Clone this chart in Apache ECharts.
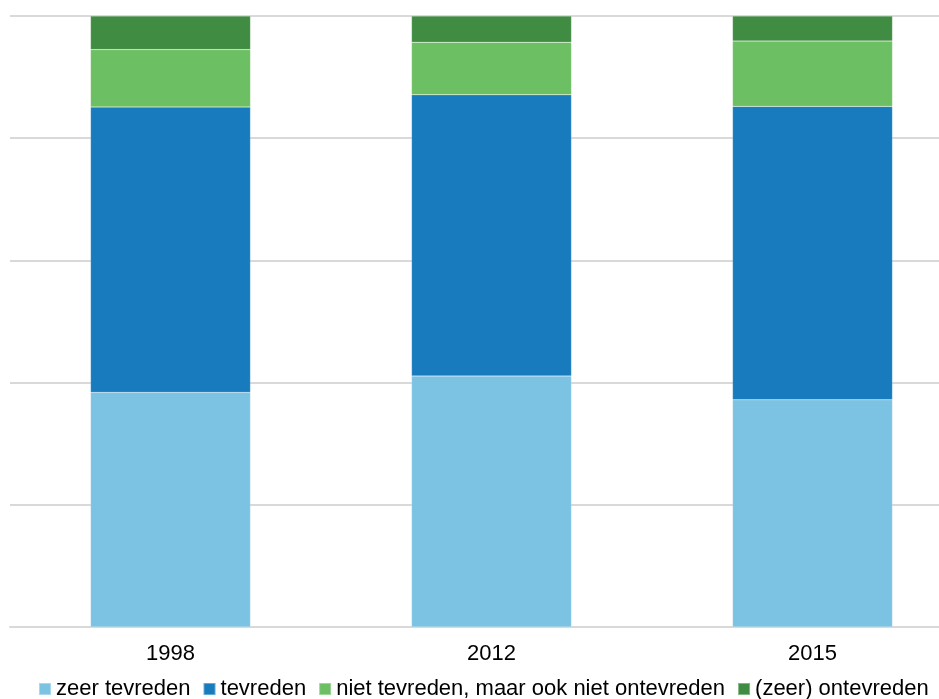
<!DOCTYPE html>
<html>
<head>
<meta charset="utf-8">
<script src="https://cdn.jsdelivr.net/npm/echarts@6/dist/echarts.min.js"></script>
<style>
  html, body { margin: 0; padding: 0; background: #fff; }
  #chart { width: 939px; height: 699px; }
</style>
</head>
<body>
<div id="chart"></div>
<script>
// categorieen en waarden (percentages)
const years = ['1998', '2012', '2015']
const seriesNames = ['zeer tevreden', 'tevreden', 'niet tevreden, maar ook niet ontevreden', '(zeer) ontevreden']
const zeerTevreden = [38.4, 41.1, 37.2]
const tevreden = [46.7, 46.0, 48.0]
const neutraal = [9.4, 8.6, 10.7]
const ontevreden = [5.5, 4.3, 4.1]
const yTicks = [0, 20, 40, 60, 80, 100]

const colors = ['#7cc3e3', '#177bbe', '#6cbf63', '#408c42']
const values = [zeerTevreden, tevreden, neutraal, ontevreden]

const myChart = echarts.init(document.getElementById('chart'))

const option = {
  animation: false,
  color: colors,
  textStyle: { fontFamily: 'Liberation Sans, Arial, sans-serif' },
  grid: {
    left: 10,
    top: 16,
    width: 963,
    height: 611,
    outerBoundsMode: 'none'
  },
  legend: {
    left: 33,
    top: 673,
    width: 930,
    padding: [5, 0, 5, 5],
    itemWidth: 12,
    itemHeight: 12,
    itemGap: 12,
    icon: 'rect',
    textStyle: { fontSize: 22, color: '#000' },
    data: seriesNames
  },
  xAxis: {
    type: 'category',
    data: years,
    axisTick: { show: false },
    axisLine: { lineStyle: { color: '#d9d9d9', width: 2 } },
    axisLabel: { fontSize: 22, color: '#000', margin: 16 }
  },
  yAxis: {
    type: 'value',
    min: yTicks[0],
    max: yTicks[yTicks.length - 1],
    interval: 20,
    axisLabel: { show: false },
    axisLine: { show: false },
    axisTick: { show: false },
    splitLine: { lineStyle: { color: '#d9d9d9', width: 2 } }
  },
  series: seriesNames.map((name, i) => ({
    name: name,
    type: 'bar',
    stack: 'totaal',
    barWidth: 160,
    data: values[i],
    itemStyle: { borderColor: 'rgba(255,255,255,0.35)', borderWidth: 0.5 }
  }))
}

myChart.setOption(option)
window.addEventListener('resize', function () {
  myChart.resize()
})
</script>
</body>
</html>
